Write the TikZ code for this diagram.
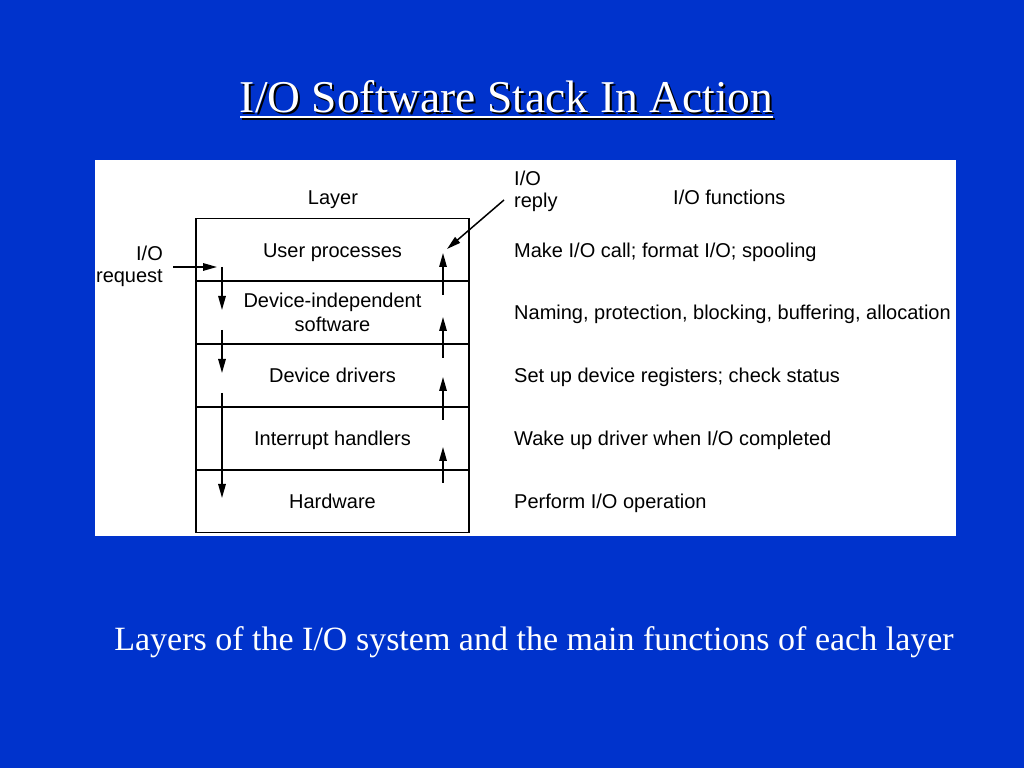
\documentclass[tikz,border=0pt]{standalone}
\usepackage{fontspec}
\setmainfont{Liberation Serif}
\setsansfont{Liberation Sans}
\usetikzlibrary{arrows.meta,positioning}
\definecolor{slideblue}{RGB}{0,51,204}

\begin{document}
\begin{tikzpicture}[
    x=1pt, y=1pt,
    layer/.style={draw, line width=1.8pt, minimum width=273pt, minimum height=62.8pt, inner sep=0pt, outer sep=0pt, font=\sffamily\fontsize{20}{24}\selectfont},
    flat/.style={text height=14.3pt, text depth=0pt},
    func/.style={inner sep=0pt, anchor=west, text height=14.3pt, text depth=0pt, font=\sffamily\fontsize{20}{24}\selectfont},
    label/.style={inner sep=0pt, font=\sffamily\fontsize{20}{22}\selectfont},
    flow/.style={-{Triangle[length=14pt,width=7.5pt]}, line width=1.5pt},
    title/.style={font=\fontsize{45.5}{50}\selectfont, inner sep=0pt, anchor=base},
    caption/.style={font=\fontsize{34}{40}\selectfont, text=white, inner sep=0pt, anchor=base},
]

% Slide and panel
\fill[slideblue] (0,0) rectangle (1024,768);
\fill[white] (95,608) rectangle (956,232);

% Title with shadow
\node[title, text=black] (titleshadow) at (508.5,653) {I/O Software Stack In Action};
\draw[black, line width=2.6pt] (242,649) -- (775,649);
\node[title, text=white] (title) at (506.5,655) {I/O Software Stack In Action};
\draw[white, line width=2.6pt] (240,651) -- (773,651);

% Layers
\node[layer, flat] (user) at (332.5,518) {User processes};
\node[layer, align=center, below=0pt of user] (devind) {Device-independent\\software};
\node[layer, flat, below=0pt of devind] (drivers) {Device drivers};
\node[layer, flat, below=0pt of drivers] (irq) {Interrupt handlers};
\node[layer, flat, below=0pt of irq] (hw) {Hardware};

% Headers
\node[label, anchor=base] (layerhead) at (333,563) {Layer};
\node[label, anchor=base west] (funchead) at (673,563) {I/O functions};

% Functions
\node[func, right=45pt of user] (f1) {Make I/O call; format I/O; spooling};
\node[func, right=45pt of devind] (f2) {Naming, protection, blocking, buffering, allocation};
\node[func, right=45pt of drivers] (f3) {Set up device registers; check status};
\node[func, right=45pt of irq] (f4) {Wake up driver when I/O completed};
\node[func, right=45pt of hw] (f5) {Perform I/O operation};

% Request and reply
\node[label, align=right, anchor=north east] (request) at (163,522.3) {I/O\\request};
\node[label, align=left, anchor=north west] (reply) at (514,597.3) {I/O\\reply};
\coordinate (reqtail) at (173,501);
\coordinate (reqhead) at (217,501);
\coordinate (reptail) at (504,568);
\coordinate (rephead) at (447,519);
\draw[flow] (reqtail) -- (reqhead);
\draw[flow] (reptail) -- (rephead);

% Down and up paths
\foreach \a/\b [count=\i] in {501/458, 438/395, 375/270} {
  \coordinate (down\i a) at (222,\a);
  \coordinate (down\i b) at (222,\b);
  \draw[flow] (down\i a) -- (down\i b);
}
\foreach \a/\b [count=\i] in {473/515, 410/451, 348/391, 285/321} {
  \coordinate (up\i a) at (443,\a);
  \coordinate (up\i b) at (443,\b);
  \draw[flow] (up\i a) -- (up\i b);
}

% Caption
\node[caption] (cap) at (534,118) {Layers of the I/O system and the main functions of each layer};

\end{tikzpicture}
\end{document}
